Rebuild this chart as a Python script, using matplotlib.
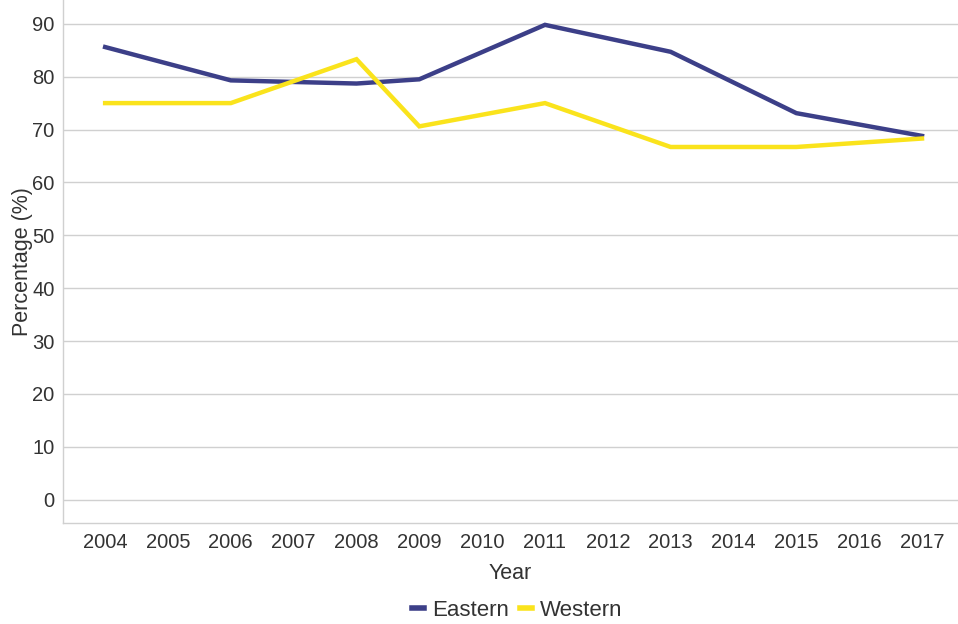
import matplotlib.pyplot as plt

plt.rcParams['font.family'] = ['Liberation Sans', 'DejaVu Sans']

years = list(range(2004, 2018))

eastern_years = [2004, 2006, 2007, 2008, 2009, 2011, 2013, 2015, 2017]
eastern_vals = [85.6, 79.3, 79.0, 78.7, 79.5, 89.8, 84.7, 73.1, 68.8]

western_years = [2004, 2006, 2008, 2009, 2011, 2013, 2015, 2017]
western_vals = [75.0, 75.0, 83.3, 70.6, 75.0, 66.7, 66.7, 68.3]

EAST_COLOR = "#3c3f88"
WEST_COLOR = "#fae31c"
GRID = "#d0d0d0"
TEXT = "#333333"
FS = 14.5

fig = plt.figure(figsize=(9.58, 6.24), dpi=100)
ax = fig.add_axes([0.0658, 0.162, 0.934, 0.838])

ax.plot(eastern_years, eastern_vals, color=EAST_COLOR, lw=3.2, label="Eastern",
        solid_joinstyle="miter")
ax.plot(western_years, western_vals, color=WEST_COLOR, lw=3.2, label="Western",
        solid_joinstyle="miter")

ax.set_xlim(2003.33, 2017.57)
ax.set_ylim(-4.4, 94.5)
ax.set_xticks(years)
ax.set_yticks(range(0, 91, 10))
ax.tick_params(length=0, labelsize=FS, labelcolor=TEXT, pad=6)
ax.tick_params(axis="x", pad=7)
ax.grid(axis="y", color=GRID, lw=1)
ax.set_axisbelow(True)

for side in ["top", "right"]:
    ax.spines[side].set_visible(False)
for side in ["left", "bottom"]:
    ax.spines[side].set_color(GRID)
    ax.spines[side].set_linewidth(1)

ax.set_xlabel("Year", fontsize=15.5, color=TEXT, labelpad=8)
ax.set_ylabel("Percentage (%)", fontsize=15.5, color=TEXT)
ax.yaxis.set_label_coords(-0.034, 0.5)

leg = fig.legend(loc="center", bbox_to_anchor=(0.54, 0.022), ncol=2, frameon=False,
                 fontsize=16, handlelength=0.55, handletextpad=0.35, columnspacing=0.5,
                 labelcolor=TEXT)
for h in leg.get_lines():
    h.set_linewidth(4)

fig.savefig("out.png", dpi=100)
